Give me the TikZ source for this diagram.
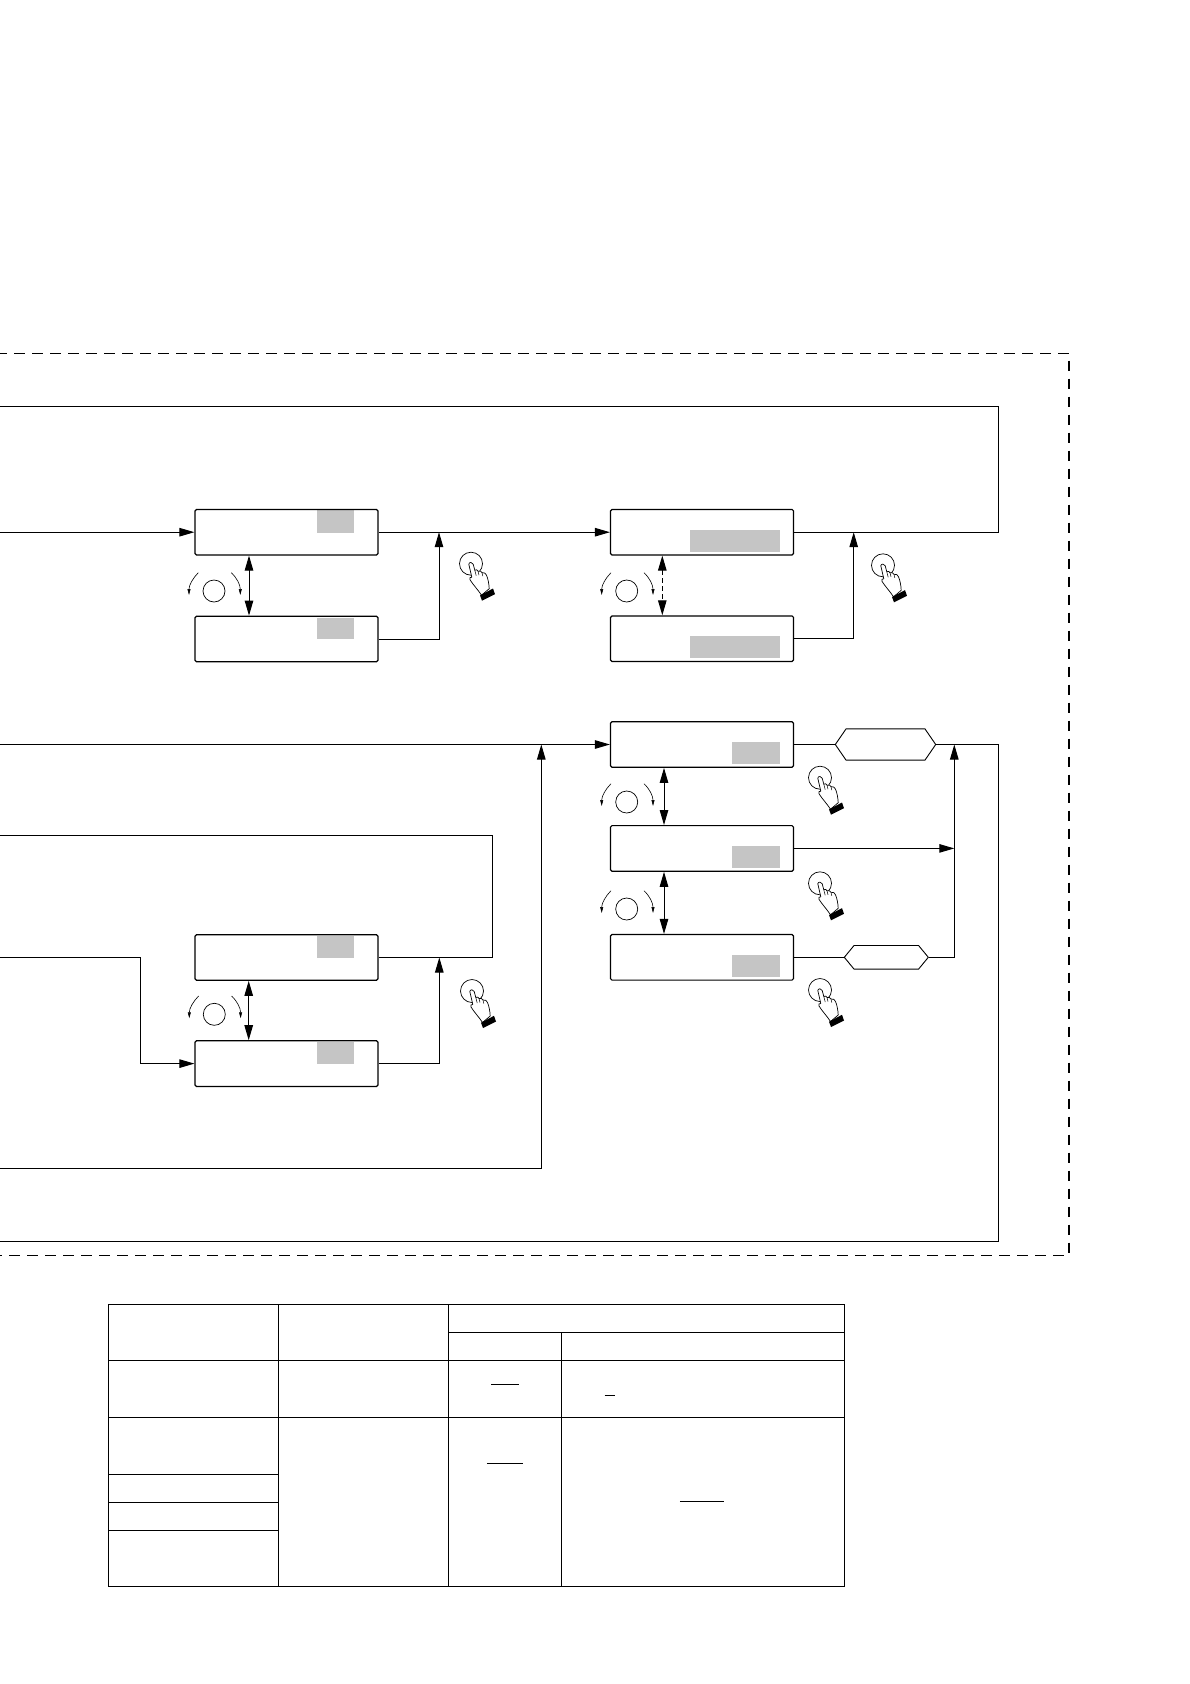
\documentclass[tikz,border=0pt]{standalone}
\usetikzlibrary{arrows.meta,shapes.symbols}
\definecolor{lcdgray}{HTML}{C5C5C5}
\tikzset{
    flow/.style={line width=1pt, -{Triangle[length=15pt,width=8.5pt]}},
    wire/.style={line width=1pt},
    swaparrow/.style={line width=1pt, {Triangle[length=15pt,width=8.5pt]}-{Triangle[length=15pt,width=8.5pt]}},
    lcdbox/.style={draw, line width=1.2pt, rounded corners=1.5pt, minimum width=183pt, minimum height=45.6pt, inner sep=0pt},
    hexbox/.style={draw, line width=0.9pt, signal, signal to=east and west, inner sep=0pt},
    turnarrow/.style={line width=0.6pt, -{Triangle[length=6pt,width=3pt]}},
    gridline/.style={line width=1.1pt},
    knob/.pic={
        \draw[line width=0.7pt] (0,0) circle[radius=11pt];
        \draw[turnarrow] (-15.7,-18.3) .. controls (-21,-13) and (-25,-6) .. (-25,4);
        \draw[turnarrow] (17.3,-18.3) .. controls (23,-13) and (26.3,-6) .. (26.3,4);
    },
    pushhand/.pic={
        \draw[line width=0.7pt] (0,0) circle[radius=11.5pt];
        \draw[line width=0.7pt, fill=white, line join=round]
            (-2.2,0.5) .. controls (-2,-1.8) and (1.8,-1.8) .. (2.2,0.5)
            -- (3.8,6.5) .. controls (5,5.5) and (6.5,6) .. (7,7.5)
            .. controls (8.5,6.8) and (10.5,7.5) .. (11,9)
            .. controls (13,8.5) and (15,9.5) .. (15.5,11.5)
            .. controls (17,15) and (18,20) .. (18.2,25)
            -- (10.5,31.5)
            .. controls (7,26) and (2,21) .. (-1,16)
            .. controls (-2,14.5) and (-1,13) .. (0.8,13.5)
            -- cycle;
        \draw[line width=0.5pt] (3.8,6.5) -- (5.2,12);
        \draw[line width=0.5pt] (7,7.5) -- (8,11.5);
        \draw[line width=0.5pt] (11,9) -- (11.8,12.5);
        \fill (9,31.7) -- (22,24.8) -- (24,30.5) -- (11,37) -- cycle;
    },
}
\begin{document}
\begin{tikzpicture}[x=1pt, y=-1pt]
    \useasboundingbox (0,0) rectangle (1190,1684);

    % Outer dashed frame
    \draw[line width=1.3pt, dash pattern=on 10.5pt off 7.5pt, dash phase=3.7pt] (0,353.4) -- (1069,353.4) -- (1069,1255.6) -- (0,1255.6);

    % Gray display fields
    \fill[lcdgray] (317,510) rectangle (354,533);
    \fill[lcdgray] (317,618) rectangle (354,639);
    \fill[lcdgray] (690,530) rectangle (780,551.7);
    \fill[lcdgray] (690,635.7) rectangle (780,657.7);
    \fill[lcdgray] (732,742) rectangle (780,763.7);
    \fill[lcdgray] (732,846) rectangle (780,867.7);
    \fill[lcdgray] (732,955.3) rectangle (780,976.7);
    \fill[lcdgray] (317,936) rectangle (354,957.7);
    \fill[lcdgray] (317,1042) rectangle (354,1064);

    % Display boxes
    \node[lcdbox] (hiA) at (286.5,532.2) {};
    \node[lcdbox] (loA) at (286.5,639) {};
    \node[lcdbox] (hiB) at (702,532.2) {};
    \node[lcdbox] (loB) at (702,638.7) {};
    \node[lcdbox] (selA) at (702,744.5) {};
    \node[lcdbox] (selB) at (702,848.4) {};
    \node[lcdbox] (selC) at (702,957.3) {};
    \node[lcdbox] (hiC) at (286.5,957.5) {};
    \node[lcdbox] (loC) at (286.5,1063.6) {};

    % Hexagons
    \node[hexbox, signal pointer angle=111, minimum width=100.4pt, minimum height=31.3pt] (hexA) at (885.5,744.5) {};
    \node[hexbox, signal pointer angle=101, minimum width=84pt, minimum height=23.7pt] (hexB) at (886.3,957.3) {};

    % Free ends and junctions
    \coordinate (topIn) at (0,532.2);
    \coordinate (joinA) at (439,532.2);
    \coordinate (joinB) at (853.7,532.2);
    \coordinate (backTopR) at (998.8,532.2);
    \coordinate (backTopU) at (998.8,406.5);
    \coordinate (backTopL) at (0,406.5);
    \coordinate (midIn) at (0,744.5);
    \coordinate (midJoin) at (541.3,744.5);
    \coordinate (midU) at (541.3,1168.6);
    \coordinate (midL) at (0,1168.6);
    \coordinate (joinC) at (954.3,744.5);
    \coordinate (joinD) at (954.3,848.4);
    \coordinate (backMidR) at (998.8,744.5);
    \coordinate (backMidD) at (998.8,1241.6);
    \coordinate (backMidL) at (0,1241.6);
    \coordinate (joinF) at (439.3,957.5);
    \coordinate (lowR) at (492.3,957.5);
    \coordinate (lowU) at (492.3,835.6);
    \coordinate (lowL) at (0,835.6);
    \coordinate (inC) at (0,957.5);
    \coordinate (inCb) at (140.7,957.5);

    % Connectors, top row
    \draw[flow] (topIn) -- (hiA.west);
    \draw[flow] (hiA.east) -- (hiB.west);
    \draw[flow] (loA.east) -| (joinA);
    \draw[wire] (hiB.east) -- (backTopR) -- (backTopU) -- (backTopL);
    \draw[flow] (loB.east) -| (joinB);
    \draw[swaparrow] ([xshift=-37.5pt]hiA.south) -- ([xshift=-37.5pt]loA.north);
    \draw[swaparrow, dash pattern=on 5pt off 3pt] ([xshift=-39.7pt]hiB.south) -- ([xshift=-39.7pt]loB.north);

    % Connectors, right column
    \draw[flow] (midIn) -- (selA.west);
    \draw[flow] (midL) -- (midU) -- (midJoin);
    \draw[wire] (selA.east) -- (hexA.west);
    \draw[wire] (hexA.east) -- (backMidR) -- (backMidD) -- (backMidL);
    \draw[flow] (selB.east) -- (joinD);
    \draw[wire] (selC.east) -- (hexB.west);
    \draw[flow] (hexB.east) -| (joinC);
    \draw[swaparrow] ([xshift=-38pt]selA.south) -- ([xshift=-38pt]selB.north);
    \draw[swaparrow] ([xshift=-38pt]selB.south) -- ([xshift=-38pt]selC.north);

    % Connectors, lower left
    \draw[wire] (hiC.east) -- (lowR) -- (lowU) -- (lowL);
    \draw[flow] (inC) -- (inCb) |- (loC.west);
    \draw[flow] (loC.east) -| (joinF);
    \draw[swaparrow] ([xshift=-37.8pt]hiC.south) -- ([xshift=-37.8pt]loC.north);

    % Knobs
    \pic at (214,591) {knob};
    \pic at (626.7,591) {knob};
    \pic at (626.7,802) {knob};
    \pic at (626.7,909) {knob};
    \pic at (214.3,1014.3) {knob};

    % Push hands
    \pic at (471,563.7) {pushhand};
    \pic at (883,565.3) {pushhand};
    \pic at (820,777.7) {pushhand};
    \pic at (820,883.3) {pushhand};
    \pic at (820,990) {pushhand};
    \pic at (472,991) {pushhand};

    % Table
    \draw[gridline] (108.5,1304.5) rectangle (844.3,1586.3);
    \draw[gridline] (278.5,1304.5) -- (278.5,1586.3);
    \draw[gridline] (448.5,1304.5) -- (448.5,1586.3);
    \draw[gridline] (561.4,1332.3) -- (561.4,1586.3);
    \draw[gridline] (448.5,1332.3) -- (844.3,1332.3);
    \draw[gridline] (108.5,1360.3) -- (844.3,1360.3);
    \draw[gridline] (108.5,1417.3) -- (844.3,1417.3);
    \draw[gridline] (108.5,1474.3) -- (278.5,1474.3);
    \draw[gridline] (108.5,1502.3) -- (278.5,1502.3);
    \draw[gridline] (108.5,1530.3) -- (278.5,1530.3);

    % Underlines left in the table
    \draw[gridline] (491.3,1384.3) -- (518.6,1384.3);
    \draw[gridline] (604.7,1395.3) -- (614.6,1395.3);
    \draw[gridline] (486.8,1463.3) -- (522.6,1463.3);
    \draw[gridline] (679.8,1501.3) -- (724,1501.3);
\end{tikzpicture}
\end{document}
